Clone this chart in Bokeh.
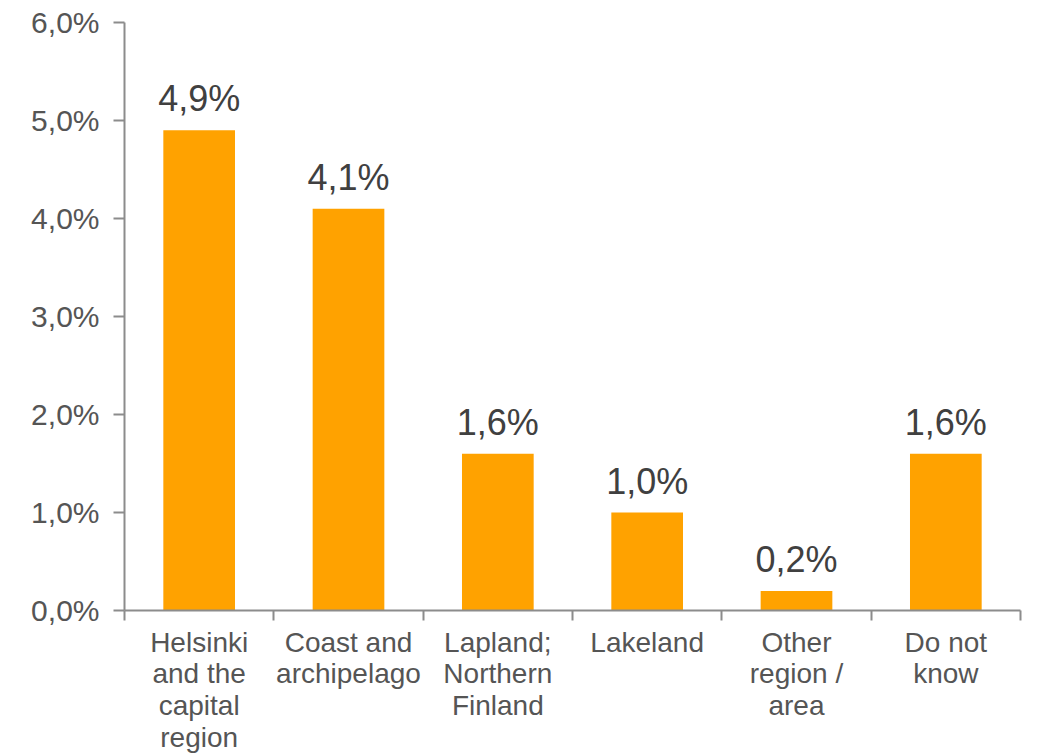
from bokeh.plotting import figure
from bokeh.models import Range1d, FixedTicker, LinearAxis, ColumnDataSource, LabelSet
from bokeh.core.properties import value
from bokeh.embed import file_html
from bokeh.resources import INLINE

categories = ["Helsinki\nand the\ncapital\nregion", "Coast and\narchipelago", "Lapland;\nNorthern\nFinland",
              "Lakeland", "Other\nregion /\narea", "Do not\nknow"]
values = [4.9, 4.1, 1.6, 1.0, 0.2, 1.6]
y_ticks = [0, 1, 2, 3, 4, 5, 6]

FONT = "Liberation Sans"
BAR = "#FFA200"
AXIS = "#8c8c8c"
TXT = "#555555"

xs = [i + 0.5 for i in range(len(categories))]
labels = [("%.1f" % v).replace(".", ",") + "%" for v in values]
src = ColumnDataSource(dict(x=xs, top=values, label=labels))

p = figure(frame_width=896, frame_height=588, output_backend="svg", toolbar_location=None,
           x_range=Range1d(0, len(categories)), y_range=Range1d(0, 6),
           x_axis_location=None, min_border_left=124, min_border_right=12,
           min_border_top=22, min_border_bottom=6)
p.outline_line_color = None
p.xgrid.visible = False
p.ygrid.visible = False
p.background_fill_color = "white"
p.border_fill_color = "white"

p.vbar(x="x", top="top", width=0.48, source=src, fill_color=BAR, line_color=None)

lbl = LabelSet(x="x", y="top", text="label", source=src, text_align="center",
               text_baseline="bottom", y_offset=11, text_font=value(FONT),
               text_font_size="36px", text_color="#404040")
p.add_layout(lbl)

# y axis
ya = p.yaxis[0]
ya.ticker = FixedTicker(ticks=y_ticks)
ya.major_label_overrides = {t: ("%.1f" % t).replace(".", ",") + "%" for t in y_ticks}
ya.axis_line_color = AXIS
ya.axis_line_width = 2
ya.major_tick_line_color = AXIS
ya.major_tick_line_width = 2
ya.major_tick_in = 0
ya.major_tick_out = 11
ya.minor_tick_line_color = None
ya.major_label_text_font = FONT
ya.major_label_text_font_size = "30px"
ya.major_label_text_color = TXT
ya.major_label_standoff = 14

# x axis with boundary ticks
xa1 = LinearAxis(ticker=FixedTicker(ticks=list(range(len(categories) + 1))))
xa1.major_label_overrides = {i: "" for i in range(len(categories) + 1)}
xa1.major_label_text_font_size = "1px"
xa1.axis_line_color = AXIS
xa1.axis_line_width = 2
xa1.major_tick_line_color = AXIS
xa1.major_tick_line_width = 2
xa1.major_tick_in = 0
xa1.major_tick_out = 10
xa1.minor_tick_line_color = None
xa1.major_label_standoff = 0
p.add_layout(xa1, "below")

# x axis with category labels
xa2 = LinearAxis(ticker=FixedTicker(ticks=xs))
xa2.major_label_overrides = {x: c for x, c in zip(xs, categories)}
xa2.axis_line_color = None
xa2.major_tick_line_color = None
xa2.minor_tick_line_color = None
xa2.major_label_text_font = FONT
xa2.major_label_text_font_size = "28px"
xa2.major_label_text_color = TXT
xa2.major_label_text_line_height = 1.03
xa2.major_label_standoff = 0
p.add_layout(xa2, "below")

open("out.html", "w").write(file_html(p, INLINE))
